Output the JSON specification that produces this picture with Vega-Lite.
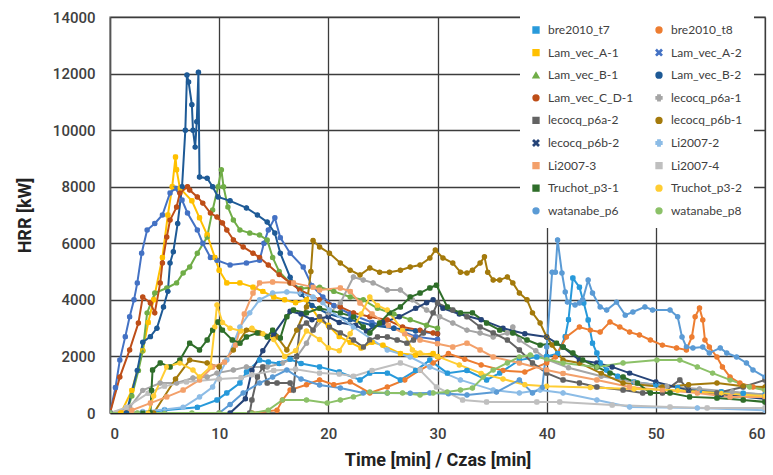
{
"$schema":"https://vega.github.io/schema/vega-lite/v6.json",
"autosize":"none",
"width":655,"height":396,
"padding":{"left":110,"top":17,"right":8,"bottom":62},
"background":"white",
"config":{"view":{"stroke":"#9a9a9a","strokeWidth":1.5},"font":"Roboto"},
"data":{"values":[
{"s":"bre2010_t7","t":0,"v":0},{"s":"bre2010_t7","t":3,"v":0},{"s":"bre2010_t7","t":5,"v":100},{"s":"bre2010_t7","t":8,"v":200},{"s":"bre2010_t7","t":9.8,"v":460},{"s":"bre2010_t7","t":10.7,"v":710},{"s":"bre2010_t7","t":11.9,"v":1060},{"s":"bre2010_t7","t":12.5,"v":1450},{"s":"bre2010_t7","t":13.7,"v":1870},{"s":"bre2010_t7","t":14.5,"v":1800},{"s":"bre2010_t7","t":15.5,"v":1750},{"s":"bre2010_t7","t":16.5,"v":1900},{"s":"bre2010_t7","t":17.5,"v":1750},{"s":"bre2010_t7","t":19.2,"v":1630},{"s":"bre2010_t7","t":21,"v":1450},{"s":"bre2010_t7","t":22.9,"v":1170},{"s":"bre2010_t7","t":23.8,"v":1410},{"s":"bre2010_t7","t":25.4,"v":1410},{"s":"bre2010_t7","t":26.6,"v":1170},{"s":"bre2010_t7","t":28,"v":1500},{"s":"bre2010_t7","t":29.3,"v":1870},{"s":"bre2010_t7","t":30.9,"v":1410},{"s":"bre2010_t7","t":32.7,"v":1500},{"s":"bre2010_t7","t":34.5,"v":1170},{"s":"bre2010_t7","t":35.7,"v":1410},{"s":"bre2010_t7","t":37.5,"v":1870},{"s":"bre2010_t7","t":39.1,"v":1980},{"s":"bre2010_t7","t":40,"v":2000},{"s":"bre2010_t7","t":41,"v":2100},{"s":"bre2010_t7","t":41.7,"v":2700},{"s":"bre2010_t7","t":42,"v":3300},{"s":"bre2010_t7","t":42.4,"v":4770},{"s":"bre2010_t7","t":43,"v":4450},{"s":"bre2010_t7","t":43.4,"v":3890},{"s":"bre2010_t7","t":43.8,"v":3290},{"s":"bre2010_t7","t":44.2,"v":2470},{"s":"bre2010_t7","t":44.6,"v":2120},{"s":"bre2010_t7","t":44.9,"v":1770},{"s":"bre2010_t7","t":45.5,"v":1520},{"s":"bre2010_t7","t":46.5,"v":1300},{"s":"bre2010_t7","t":48,"v":1100},{"s":"bre2010_t7","t":50,"v":1000},{"s":"bre2010_t7","t":52,"v":900},{"s":"bre2010_t7","t":54,"v":800},{"s":"bre2010_t7","t":56,"v":750},{"s":"bre2010_t7","t":58,"v":700},{"s":"bre2010_t7","t":60,"v":650},
{"s":"bre2010_t8","t":0,"v":0},{"s":"bre2010_t8","t":5,"v":0},{"s":"bre2010_t8","t":10,"v":0},{"s":"bre2010_t8","t":13,"v":0},{"s":"bre2010_t8","t":15.3,"v":100},{"s":"bre2010_t8","t":15.8,"v":460},{"s":"bre2010_t8","t":16.5,"v":810},{"s":"bre2010_t8","t":18,"v":1000},{"s":"bre2010_t8","t":19.2,"v":1170},{"s":"bre2010_t8","t":20.5,"v":1000},{"s":"bre2010_t8","t":22,"v":1100},{"s":"bre2010_t8","t":23.8,"v":710},{"s":"bre2010_t8","t":25.4,"v":920},{"s":"bre2010_t8","t":27,"v":1170},{"s":"bre2010_t8","t":28.4,"v":1520},{"s":"bre2010_t8","t":29.6,"v":1770},{"s":"bre2010_t8","t":31,"v":2100},{"s":"bre2010_t8","t":32.5,"v":1900},{"s":"bre2010_t8","t":34,"v":1700},{"s":"bre2010_t8","t":36,"v":1500},{"s":"bre2010_t8","t":38,"v":1450},{"s":"bre2010_t8","t":40,"v":1770},{"s":"bre2010_t8","t":40.8,"v":1980},{"s":"bre2010_t8","t":41.8,"v":2690},{"s":"bre2010_t8","t":43,"v":3040},{"s":"bre2010_t8","t":44,"v":2930},{"s":"bre2010_t8","t":44.9,"v":2860},{"s":"bre2010_t8","t":45.8,"v":3220},{"s":"bre2010_t8","t":46.7,"v":3040},{"s":"bre2010_t8","t":47.6,"v":2860},{"s":"bre2010_t8","t":48.5,"v":2760},{"s":"bre2010_t8","t":49.5,"v":2580},{"s":"bre2010_t8","t":50.6,"v":2400},{"s":"bre2010_t8","t":51.9,"v":2300},{"s":"bre2010_t8","t":52.8,"v":2230},{"s":"bre2010_t8","t":53.3,"v":2690},{"s":"bre2010_t8","t":53.6,"v":3400},{"s":"bre2010_t8","t":54,"v":3710},{"s":"bre2010_t8","t":54.3,"v":3290},{"s":"bre2010_t8","t":54.5,"v":2580},{"s":"bre2010_t8","t":54.9,"v":2330},{"s":"bre2010_t8","t":55.6,"v":1980},{"s":"bre2010_t8","t":56.1,"v":1630},{"s":"bre2010_t8","t":56.8,"v":1270},{"s":"bre2010_t8","t":57.7,"v":1060},{"s":"bre2010_t8","t":58.9,"v":920},{"s":"bre2010_t8","t":60,"v":810},
{"s":"Lam_vec_A-1","t":1,"v":0},{"s":"Lam_vec_A-1","t":2,"v":800},{"s":"Lam_vec_A-1","t":3,"v":2200},{"s":"Lam_vec_A-1","t":3.5,"v":3200},{"s":"Lam_vec_A-1","t":4,"v":4000},{"s":"Lam_vec_A-1","t":4.8,"v":5500},{"s":"Lam_vec_A-1","t":5.3,"v":7000},{"s":"Lam_vec_A-1","t":5.7,"v":8000},{"s":"Lam_vec_A-1","t":6,"v":9050},{"s":"Lam_vec_A-1","t":6.1,"v":8600},{"s":"Lam_vec_A-1","t":6.4,"v":7950},{"s":"Lam_vec_A-1","t":7.5,"v":7500},{"s":"Lam_vec_A-1","t":8.2,"v":6900},{"s":"Lam_vec_A-1","t":8.9,"v":6300},{"s":"Lam_vec_A-1","t":9.6,"v":5500},{"s":"Lam_vec_A-1","t":10,"v":5050},{"s":"Lam_vec_A-1","t":10.7,"v":4600},{"s":"Lam_vec_A-1","t":11.9,"v":4600},{"s":"Lam_vec_A-1","t":13.1,"v":4450},{"s":"Lam_vec_A-1","t":14,"v":4300},{"s":"Lam_vec_A-1","t":15,"v":4100},{"s":"Lam_vec_A-1","t":16,"v":4000},{"s":"Lam_vec_A-1","t":17,"v":3900},{"s":"Lam_vec_A-1","t":18,"v":4000},{"s":"Lam_vec_A-1","t":19.2,"v":3300},{"s":"Lam_vec_A-1","t":20,"v":3100},{"s":"Lam_vec_A-1","t":21,"v":2700},{"s":"Lam_vec_A-1","t":22,"v":2500},{"s":"Lam_vec_A-1","t":23,"v":2300},{"s":"Lam_vec_A-1","t":24,"v":2500},{"s":"Lam_vec_A-1","t":25,"v":2400},{"s":"Lam_vec_A-1","t":26.6,"v":2100},{"s":"Lam_vec_A-1","t":28,"v":2050},{"s":"Lam_vec_A-1","t":29.6,"v":2100},{"s":"Lam_vec_A-1","t":30,"v":2000},
{"s":"Lam_vec_A-2","t":0,"v":0},{"s":"Lam_vec_A-2","t":0.5,"v":900},{"s":"Lam_vec_A-2","t":0.9,"v":1870},{"s":"Lam_vec_A-2","t":1.4,"v":2700},{"s":"Lam_vec_A-2","t":1.8,"v":3400},{"s":"Lam_vec_A-2","t":2.2,"v":4000},{"s":"Lam_vec_A-2","t":2.5,"v":4600},{"s":"Lam_vec_A-2","t":2.9,"v":5650},{"s":"Lam_vec_A-2","t":3.4,"v":6470},{"s":"Lam_vec_A-2","t":4.1,"v":6700},{"s":"Lam_vec_A-2","t":4.8,"v":7000},{"s":"Lam_vec_A-2","t":5.5,"v":7780},{"s":"Lam_vec_A-2","t":6,"v":7950},{"s":"Lam_vec_A-2","t":6.6,"v":7530},{"s":"Lam_vec_A-2","t":7.1,"v":7070},{"s":"Lam_vec_A-2","t":8,"v":6470},{"s":"Lam_vec_A-2","t":8.5,"v":6000},{"s":"Lam_vec_A-2","t":9.2,"v":5500},{"s":"Lam_vec_A-2","t":9.8,"v":5400},{"s":"Lam_vec_A-2","t":11,"v":5230},{"s":"Lam_vec_A-2","t":12.5,"v":5300},{"s":"Lam_vec_A-2","t":13.7,"v":5400},{"s":"Lam_vec_A-2","t":14.1,"v":6000},{"s":"Lam_vec_A-2","t":14.5,"v":6470},{"s":"Lam_vec_A-2","t":15.1,"v":6900},{"s":"Lam_vec_A-2","t":15.6,"v":6200},{"s":"Lam_vec_A-2","t":16.5,"v":5650},{"s":"Lam_vec_A-2","t":17.7,"v":5160},{"s":"Lam_vec_A-2","t":18.5,"v":4500},{"s":"Lam_vec_A-2","t":19.5,"v":4100},{"s":"Lam_vec_A-2","t":20.5,"v":3800},{"s":"Lam_vec_A-2","t":22,"v":3500},{"s":"Lam_vec_A-2","t":24,"v":3200},{"s":"Lam_vec_A-2","t":26,"v":3000},{"s":"Lam_vec_A-2","t":28,"v":2700},{"s":"Lam_vec_A-2","t":30,"v":2600},
{"s":"Lam_vec_B-1","t":1.5,"v":0},{"s":"Lam_vec_B-1","t":2,"v":600},{"s":"Lam_vec_B-1","t":2.6,"v":1500},{"s":"Lam_vec_B-1","t":3,"v":2200},{"s":"Lam_vec_B-1","t":3.4,"v":3540},{"s":"Lam_vec_B-1","t":4.1,"v":4240},{"s":"Lam_vec_B-1","t":5.2,"v":4420},{"s":"Lam_vec_B-1","t":6.1,"v":4600},{"s":"Lam_vec_B-1","t":6.7,"v":4950},{"s":"Lam_vec_B-1","t":7.3,"v":5160},{"s":"Lam_vec_B-1","t":8,"v":5650},{"s":"Lam_vec_B-1","t":8.9,"v":6220},{"s":"Lam_vec_B-1","t":9.4,"v":7180},{"s":"Lam_vec_B-1","t":9.9,"v":8000},{"s":"Lam_vec_B-1","t":10.2,"v":8600},{"s":"Lam_vec_B-1","t":10.4,"v":8000},{"s":"Lam_vec_B-1","t":10.8,"v":7280},{"s":"Lam_vec_B-1","t":11.3,"v":6820},{"s":"Lam_vec_B-1","t":11.9,"v":6470},{"s":"Lam_vec_B-1","t":12.8,"v":6360},{"s":"Lam_vec_B-1","t":13.7,"v":6290},{"s":"Lam_vec_B-1","t":14.4,"v":6120},{"s":"Lam_vec_B-1","t":14.9,"v":5500},{"s":"Lam_vec_B-1","t":15.5,"v":5000},{"s":"Lam_vec_B-1","t":16.5,"v":4600},{"s":"Lam_vec_B-1","t":17.5,"v":4400},{"s":"Lam_vec_B-1","t":19.2,"v":4450},{"s":"Lam_vec_B-1","t":20.5,"v":4300},{"s":"Lam_vec_B-1","t":22,"v":4100},{"s":"Lam_vec_B-1","t":23.2,"v":4000},{"s":"Lam_vec_B-1","t":24.5,"v":3700},{"s":"Lam_vec_B-1","t":26,"v":3500},{"s":"Lam_vec_B-1","t":27.5,"v":3300},{"s":"Lam_vec_B-1","t":29,"v":3100},{"s":"Lam_vec_B-1","t":30,"v":3000},
{"s":"Lam_vec_B-2","t":1.5,"v":0},{"s":"Lam_vec_B-2","t":2.5,"v":1500},{"s":"Lam_vec_B-2","t":3,"v":2500},{"s":"Lam_vec_B-2","t":3.7,"v":2700},{"s":"Lam_vec_B-2","t":4.3,"v":3000},{"s":"Lam_vec_B-2","t":4.9,"v":3750},{"s":"Lam_vec_B-2","t":5.3,"v":4300},{"s":"Lam_vec_B-2","t":5.5,"v":5300},{"s":"Lam_vec_B-2","t":5.8,"v":5700},{"s":"Lam_vec_B-2","t":6.2,"v":6700},{"s":"Lam_vec_B-2","t":6.6,"v":8000},{"s":"Lam_vec_B-2","t":6.9,"v":10000},{"s":"Lam_vec_B-2","t":7.05,"v":11950},{"s":"Lam_vec_B-2","t":7.2,"v":11700},{"s":"Lam_vec_B-2","t":7.5,"v":10900},{"s":"Lam_vec_B-2","t":7.6,"v":10000},{"s":"Lam_vec_B-2","t":7.8,"v":9400},{"s":"Lam_vec_B-2","t":7.95,"v":10300},{"s":"Lam_vec_B-2","t":8.1,"v":12050},{"s":"Lam_vec_B-2","t":8.2,"v":8340},{"s":"Lam_vec_B-2","t":8.9,"v":8300},{"s":"Lam_vec_B-2","t":9.4,"v":8000},{"s":"Lam_vec_B-2","t":9.9,"v":7640},{"s":"Lam_vec_B-2","t":11,"v":7500},{"s":"Lam_vec_B-2","t":12.5,"v":7250},{"s":"Lam_vec_B-2","t":13.5,"v":7000},{"s":"Lam_vec_B-2","t":14.4,"v":6750},{"s":"Lam_vec_B-2","t":15.1,"v":6360},{"s":"Lam_vec_B-2","t":15.6,"v":5650},{"s":"Lam_vec_B-2","t":16.5,"v":4800},{"s":"Lam_vec_B-2","t":17.5,"v":4200},{"s":"Lam_vec_B-2","t":18.5,"v":3800},{"s":"Lam_vec_B-2","t":20,"v":3500},{"s":"Lam_vec_B-2","t":22,"v":3300},{"s":"Lam_vec_B-2","t":24,"v":3100},{"s":"Lam_vec_B-2","t":26,"v":3000},{"s":"Lam_vec_B-2","t":28,"v":2900},{"s":"Lam_vec_B-2","t":30,"v":2800},
{"s":"Lam_vec_C_D-1","t":0,"v":0},{"s":"Lam_vec_C_D-1","t":0.9,"v":1270},{"s":"Lam_vec_C_D-1","t":1.8,"v":2230},{"s":"Lam_vec_C_D-1","t":2.6,"v":3180},{"s":"Lam_vec_C_D-1","t":3,"v":4100},{"s":"Lam_vec_C_D-1","t":3.7,"v":3890},{"s":"Lam_vec_C_D-1","t":4.1,"v":3540},{"s":"Lam_vec_C_D-1","t":4.6,"v":4600},{"s":"Lam_vec_C_D-1","t":4.8,"v":5300},{"s":"Lam_vec_C_D-1","t":5.2,"v":6220},{"s":"Lam_vec_C_D-1","t":5.5,"v":6820},{"s":"Lam_vec_C_D-1","t":6.1,"v":7280},{"s":"Lam_vec_C_D-1","t":6.4,"v":7780},{"s":"Lam_vec_C_D-1","t":7.1,"v":8000},{"s":"Lam_vec_C_D-1","t":7.3,"v":7880},{"s":"Lam_vec_C_D-1","t":8,"v":7640},{"s":"Lam_vec_C_D-1","t":8.5,"v":7420},{"s":"Lam_vec_C_D-1","t":9.2,"v":7070},{"s":"Lam_vec_C_D-1","t":9.8,"v":6930},{"s":"Lam_vec_C_D-1","t":10.3,"v":6720},{"s":"Lam_vec_C_D-1","t":10.7,"v":6470},{"s":"Lam_vec_C_D-1","t":11.3,"v":6120},{"s":"Lam_vec_C_D-1","t":12.2,"v":5870},{"s":"Lam_vec_C_D-1","t":13.1,"v":5650},{"s":"Lam_vec_C_D-1","t":13.7,"v":5500},{"s":"Lam_vec_C_D-1","t":14.5,"v":5230},{"s":"Lam_vec_C_D-1","t":15.5,"v":4900},{"s":"Lam_vec_C_D-1","t":16.5,"v":4600},{"s":"Lam_vec_C_D-1","t":17.4,"v":4350},{"s":"Lam_vec_C_D-1","t":19.2,"v":4000},{"s":"Lam_vec_C_D-1","t":21.1,"v":3750},{"s":"Lam_vec_C_D-1","t":22.3,"v":3540},{"s":"Lam_vec_C_D-1","t":23.8,"v":3400},{"s":"Lam_vec_C_D-1","t":25.4,"v":3290},{"s":"Lam_vec_C_D-1","t":26.8,"v":3040},{"s":"Lam_vec_C_D-1","t":28.4,"v":2930},{"s":"Lam_vec_C_D-1","t":29.6,"v":2830},{"s":"Lam_vec_C_D-1","t":30,"v":2800},
{"s":"lecocq_p6a-1","t":0,"v":0},{"s":"lecocq_p6a-1","t":1.8,"v":200},{"s":"lecocq_p6a-1","t":3,"v":800},{"s":"lecocq_p6a-1","t":4.6,"v":1060},{"s":"lecocq_p6a-1","t":6.1,"v":1060},{"s":"lecocq_p6a-1","t":7.6,"v":1240},{"s":"lecocq_p6a-1","t":8.9,"v":1270},{"s":"lecocq_p6a-1","t":9.8,"v":1410},{"s":"lecocq_p6a-1","t":11.3,"v":1520},{"s":"lecocq_p6a-1","t":12.5,"v":1630},{"s":"lecocq_p6a-1","t":14.4,"v":1630},{"s":"lecocq_p6a-1","t":15.8,"v":1770},{"s":"lecocq_p6a-1","t":17.1,"v":1980},{"s":"lecocq_p6a-1","t":18,"v":2470},{"s":"lecocq_p6a-1","t":18.6,"v":2930},{"s":"lecocq_p6a-1","t":20,"v":3500},{"s":"lecocq_p6a-1","t":21.1,"v":3890},{"s":"lecocq_p6a-1","t":22.3,"v":4810},{"s":"lecocq_p6a-1","t":23.2,"v":4700},{"s":"lecocq_p6a-1","t":24.1,"v":4600},{"s":"lecocq_p6a-1","t":25.4,"v":4350},{"s":"lecocq_p6a-1","t":26.6,"v":4350},{"s":"lecocq_p6a-1","t":27.7,"v":4000},{"s":"lecocq_p6a-1","t":29,"v":3640},{"s":"lecocq_p6a-1","t":30.2,"v":3400},{"s":"lecocq_p6a-1","t":31.4,"v":3180},{"s":"lecocq_p6a-1","t":32.7,"v":2930},{"s":"lecocq_p6a-1","t":33.9,"v":2830},{"s":"lecocq_p6a-1","t":35.1,"v":2690},{"s":"lecocq_p6a-1","t":36.4,"v":2830},{"s":"lecocq_p6a-1","t":36.9,"v":3040},{"s":"lecocq_p6a-1","t":37.5,"v":2580},{"s":"lecocq_p6a-1","t":39,"v":2200},{"s":"lecocq_p6a-1","t":40,"v":1900},{"s":"lecocq_p6a-1","t":42,"v":1600},{"s":"lecocq_p6a-1","t":45,"v":1300},{"s":"lecocq_p6a-1","t":48,"v":1100},{"s":"lecocq_p6a-1","t":51,"v":950},{"s":"lecocq_p6a-1","t":54,"v":850},{"s":"lecocq_p6a-1","t":57,"v":750},{"s":"lecocq_p6a-1","t":60,"v":650},
{"s":"lecocq_p6a-2","t":12.8,"v":0},{"s":"lecocq_p6a-2","t":13,"v":460},{"s":"lecocq_p6a-2","t":13.5,"v":1270},{"s":"lecocq_p6a-2","t":14,"v":1630},{"s":"lecocq_p6a-2","t":14.4,"v":1060},{"s":"lecocq_p6a-2","t":15.3,"v":1060},{"s":"lecocq_p6a-2","t":16.5,"v":1060},{"s":"lecocq_p6a-2","t":16.8,"v":810},{"s":"lecocq_p6a-2","t":17.1,"v":2000},{"s":"lecocq_p6a-2","t":17.4,"v":3040},{"s":"lecocq_p6a-2","t":18,"v":3180},{"s":"lecocq_p6a-2","t":18.6,"v":2930},{"s":"lecocq_p6a-2","t":19.2,"v":3400},{"s":"lecocq_p6a-2","t":20.1,"v":3040},{"s":"lecocq_p6a-2","t":21.1,"v":2830},{"s":"lecocq_p6a-2","t":22.3,"v":2580},{"s":"lecocq_p6a-2","t":23.2,"v":2330},{"s":"lecocq_p6a-2","t":23.8,"v":2580},{"s":"lecocq_p6a-2","t":24.5,"v":2690},{"s":"lecocq_p6a-2","t":25.4,"v":2690},{"s":"lecocq_p6a-2","t":26.3,"v":2580},{"s":"lecocq_p6a-2","t":27.2,"v":2470},{"s":"lecocq_p6a-2","t":27.8,"v":2580},{"s":"lecocq_p6a-2","t":28.7,"v":2830},{"s":"lecocq_p6a-2","t":29.6,"v":3540},{"s":"lecocq_p6a-2","t":30,"v":3890},{"s":"lecocq_p6a-2","t":31.4,"v":3640},{"s":"lecocq_p6a-2","t":32.7,"v":3400},{"s":"lecocq_p6a-2","t":33.9,"v":3040},{"s":"lecocq_p6a-2","t":35.1,"v":2830},{"s":"lecocq_p6a-2","t":36.4,"v":2580},{"s":"lecocq_p6a-2","t":37.5,"v":2230},{"s":"lecocq_p6a-2","t":38.7,"v":1770},{"s":"lecocq_p6a-2","t":40,"v":1410},{"s":"lecocq_p6a-2","t":41.5,"v":1170},{"s":"lecocq_p6a-2","t":43,"v":1060},{"s":"lecocq_p6a-2","t":44.6,"v":920},{"s":"lecocq_p6a-2","t":47,"v":810},{"s":"lecocq_p6a-2","t":48.8,"v":710},{"s":"lecocq_p6a-2","t":50.6,"v":710},{"s":"lecocq_p6a-2","t":52.2,"v":1170},{"s":"lecocq_p6a-2","t":53,"v":810},{"s":"lecocq_p6a-2","t":55.6,"v":710},{"s":"lecocq_p6a-2","t":58,"v":920},{"s":"lecocq_p6a-2","t":60,"v":1170},
{"s":"lecocq_p6b-1","t":4,"v":0},{"s":"lecocq_p6b-1","t":6,"v":1200},{"s":"lecocq_p6b-1","t":7.3,"v":1870},{"s":"lecocq_p6b-1","t":8.9,"v":1770},{"s":"lecocq_p6b-1","t":10,"v":1630},{"s":"lecocq_p6b-1","t":11.3,"v":2230},{"s":"lecocq_p6b-1","t":12.5,"v":2930},{"s":"lecocq_p6b-1","t":13.7,"v":2830},{"s":"lecocq_p6b-1","t":15.3,"v":2690},{"s":"lecocq_p6b-1","t":16.2,"v":2230},{"s":"lecocq_p6b-1","t":17.1,"v":2930},{"s":"lecocq_p6b-1","t":18,"v":3750},{"s":"lecocq_p6b-1","t":18.4,"v":5000},{"s":"lecocq_p6b-1","t":18.6,"v":6100},{"s":"lecocq_p6b-1","t":19.2,"v":5870},{"s":"lecocq_p6b-1","t":20.1,"v":5650},{"s":"lecocq_p6b-1","t":21.1,"v":5300},{"s":"lecocq_p6b-1","t":22,"v":5050},{"s":"lecocq_p6b-1","t":22.9,"v":4880},{"s":"lecocq_p6b-1","t":23.8,"v":5130},{"s":"lecocq_p6b-1","t":24.7,"v":4980},{"s":"lecocq_p6b-1","t":25.6,"v":4980},{"s":"lecocq_p6b-1","t":26.6,"v":5050},{"s":"lecocq_p6b-1","t":27.5,"v":5160},{"s":"lecocq_p6b-1","t":28.4,"v":5230},{"s":"lecocq_p6b-1","t":29.3,"v":5480},{"s":"lecocq_p6b-1","t":29.8,"v":5760},{"s":"lecocq_p6b-1","t":30.5,"v":5480},{"s":"lecocq_p6b-1","t":31.4,"v":5300},{"s":"lecocq_p6b-1","t":32.1,"v":4980},{"s":"lecocq_p6b-1","t":32.7,"v":4950},{"s":"lecocq_p6b-1","t":33.2,"v":5050},{"s":"lecocq_p6b-1","t":33.9,"v":5300},{"s":"lecocq_p6b-1","t":34.3,"v":5520},{"s":"lecocq_p6b-1","t":34.6,"v":4980},{"s":"lecocq_p6b-1","t":35.1,"v":4700},{"s":"lecocq_p6b-1","t":35.7,"v":4700},{"s":"lecocq_p6b-1","t":36.4,"v":4810},{"s":"lecocq_p6b-1","t":36.9,"v":4600},{"s":"lecocq_p6b-1","t":37.5,"v":4240},{"s":"lecocq_p6b-1","t":38.2,"v":4000},{"s":"lecocq_p6b-1","t":38.7,"v":3540},{"s":"lecocq_p6b-1","t":39.4,"v":3180},{"s":"lecocq_p6b-1","t":40,"v":2690},{"s":"lecocq_p6b-1","t":40.5,"v":2400},{"s":"lecocq_p6b-1","t":41.5,"v":1870},{"s":"lecocq_p6b-1","t":43,"v":1770},{"s":"lecocq_p6b-1","t":45,"v":1400},{"s":"lecocq_p6b-1","t":47,"v":1060},{"s":"lecocq_p6b-1","t":50.6,"v":920},{"s":"lecocq_p6b-1","t":53,"v":1000},{"s":"lecocq_p6b-1","t":55.6,"v":1060},{"s":"lecocq_p6b-1","t":58,"v":950},{"s":"lecocq_p6b-1","t":60,"v":920},
{"s":"lecocq_p6b-2","t":11,"v":0},{"s":"lecocq_p6b-2","t":12.4,"v":500},{"s":"lecocq_p6b-2","t":13,"v":1500},{"s":"lecocq_p6b-2","t":14,"v":2200},{"s":"lecocq_p6b-2","t":15,"v":2800},{"s":"lecocq_p6b-2","t":16.5,"v":3600},{"s":"lecocq_p6b-2","t":17.5,"v":3500},{"s":"lecocq_p6b-2","t":18.5,"v":3300},{"s":"lecocq_p6b-2","t":20,"v":3400},{"s":"lecocq_p6b-2","t":21,"v":3200},{"s":"lecocq_p6b-2","t":22.5,"v":3100},{"s":"lecocq_p6b-2","t":23.5,"v":2900},{"s":"lecocq_p6b-2","t":25,"v":3200},{"s":"lecocq_p6b-2","t":26.5,"v":3400},{"s":"lecocq_p6b-2","t":28,"v":3700},{"s":"lecocq_p6b-2","t":29,"v":3900},{"s":"lecocq_p6b-2","t":29.6,"v":4000},{"s":"lecocq_p6b-2","t":30.5,"v":3700},{"s":"lecocq_p6b-2","t":32,"v":3500},{"s":"lecocq_p6b-2","t":34,"v":3300},{"s":"lecocq_p6b-2","t":36,"v":3000},{"s":"lecocq_p6b-2","t":38,"v":2800},{"s":"lecocq_p6b-2","t":40,"v":2690},{"s":"lecocq_p6b-2","t":41.5,"v":2330},{"s":"lecocq_p6b-2","t":43,"v":1870},{"s":"lecocq_p6b-2","t":44.6,"v":1770},{"s":"lecocq_p6b-2","t":46,"v":1630},{"s":"lecocq_p6b-2","t":47.6,"v":1410},{"s":"lecocq_p6b-2","t":50,"v":1100},{"s":"lecocq_p6b-2","t":53,"v":800},{"s":"lecocq_p6b-2","t":56,"v":650},{"s":"lecocq_p6b-2","t":60,"v":500},
{"s":"Li2007-2","t":0,"v":0},{"s":"Li2007-2","t":3,"v":50},{"s":"Li2007-2","t":5,"v":120},{"s":"Li2007-2","t":6.7,"v":200},{"s":"Li2007-2","t":8.2,"v":570},{"s":"Li2007-2","t":9.4,"v":920},{"s":"Li2007-2","t":10.7,"v":1870},{"s":"Li2007-2","t":11.9,"v":3040},{"s":"Li2007-2","t":12.8,"v":3540},{"s":"Li2007-2","t":13.7,"v":4000},{"s":"Li2007-2","t":14.9,"v":4240},{"s":"Li2007-2","t":16.2,"v":4280},{"s":"Li2007-2","t":17.4,"v":4240},{"s":"Li2007-2","t":18.6,"v":4100},{"s":"Li2007-2","t":19.5,"v":3900},{"s":"Li2007-2","t":20.1,"v":3640},{"s":"Li2007-2","t":22.3,"v":3040},{"s":"Li2007-2","t":25.4,"v":2230},{"s":"Li2007-2","t":27.5,"v":1980},{"s":"Li2007-2","t":29.3,"v":1630},{"s":"Li2007-2","t":32.1,"v":1170},{"s":"Li2007-2","t":35.1,"v":810},{"s":"Li2007-2","t":37.5,"v":710},{"s":"Li2007-2","t":39.4,"v":810},{"s":"Li2007-2","t":41.5,"v":710},{"s":"Li2007-2","t":44.6,"v":460},{"s":"Li2007-2","t":47.6,"v":210},{"s":"Li2007-2","t":53.8,"v":180},{"s":"Li2007-2","t":60,"v":100},
{"s":"Li2007-3","t":0,"v":0},{"s":"Li2007-3","t":2,"v":100},{"s":"Li2007-3","t":3.7,"v":350},{"s":"Li2007-3","t":5.2,"v":570},{"s":"Li2007-3","t":6.7,"v":810},{"s":"Li2007-3","t":8.2,"v":1170},{"s":"Li2007-3","t":9.4,"v":1630},{"s":"Li2007-3","t":10.5,"v":1800},{"s":"Li2007-3","t":11.5,"v":2400},{"s":"Li2007-3","t":12.3,"v":3500},{"s":"Li2007-3","t":13.1,"v":4240},{"s":"Li2007-3","t":13.7,"v":4600},{"s":"Li2007-3","t":14.9,"v":4630},{"s":"Li2007-3","t":16.8,"v":4600},{"s":"Li2007-3","t":18.6,"v":4450},{"s":"Li2007-3","t":19.2,"v":4350},{"s":"Li2007-3","t":21.1,"v":4420},{"s":"Li2007-3","t":22,"v":4300},{"s":"Li2007-3","t":22.9,"v":3890},{"s":"Li2007-3","t":24,"v":3500},{"s":"Li2007-3","t":25.5,"v":3100},{"s":"Li2007-3","t":27,"v":2800},{"s":"Li2007-3","t":28.4,"v":2580},{"s":"Li2007-3","t":30,"v":2450},{"s":"Li2007-3","t":31.4,"v":2330},{"s":"Li2007-3","t":32.7,"v":2470},{"s":"Li2007-3","t":33.9,"v":2230},{"s":"Li2007-3","t":35.1,"v":1980},{"s":"Li2007-3","t":37.5,"v":1770},{"s":"Li2007-3","t":40,"v":1520},{"s":"Li2007-3","t":41.5,"v":1400},{"s":"Li2007-3","t":44.6,"v":1170},{"s":"Li2007-3","t":47.6,"v":920},{"s":"Li2007-3","t":50.6,"v":810},{"s":"Li2007-3","t":53.8,"v":710},{"s":"Li2007-3","t":56.8,"v":570},{"s":"Li2007-3","t":60,"v":570},
{"s":"Li2007-4","t":0,"v":0},{"s":"Li2007-4","t":1.5,"v":200},{"s":"Li2007-4","t":3.5,"v":700},{"s":"Li2007-4","t":5,"v":950},{"s":"Li2007-4","t":7,"v":1100},{"s":"Li2007-4","t":10,"v":1200},{"s":"Li2007-4","t":12,"v":1250},{"s":"Li2007-4","t":13,"v":1350},{"s":"Li2007-4","t":15,"v":1500},{"s":"Li2007-4","t":17,"v":1550},{"s":"Li2007-4","t":19.2,"v":1410},{"s":"Li2007-4","t":21,"v":1380},{"s":"Li2007-4","t":22.3,"v":1300},{"s":"Li2007-4","t":24,"v":1500},{"s":"Li2007-4","t":26.6,"v":1770},{"s":"Li2007-4","t":28.4,"v":1520},{"s":"Li2007-4","t":29.9,"v":920},{"s":"Li2007-4","t":32.3,"v":460},{"s":"Li2007-4","t":34.5,"v":390},{"s":"Li2007-4","t":39.1,"v":390},{"s":"Li2007-4","t":41.2,"v":390},{"s":"Li2007-4","t":46,"v":280},{"s":"Li2007-4","t":51.3,"v":210},{"s":"Li2007-4","t":54.7,"v":180},{"s":"Li2007-4","t":60,"v":180},
{"s":"Truchot_p3-1","t":0,"v":0},{"s":"Truchot_p3-1","t":3,"v":0},{"s":"Truchot_p3-1","t":3.7,"v":0},{"s":"Truchot_p3-1","t":3.8,"v":800},{"s":"Truchot_p3-1","t":3.9,"v":1520},{"s":"Truchot_p3-1","t":4.6,"v":1770},{"s":"Truchot_p3-1","t":5.5,"v":1630},{"s":"Truchot_p3-1","t":6.4,"v":1870},{"s":"Truchot_p3-1","t":7.3,"v":2470},{"s":"Truchot_p3-1","t":8.2,"v":2230},{"s":"Truchot_p3-1","t":8.9,"v":2580},{"s":"Truchot_p3-1","t":9.4,"v":2930},{"s":"Truchot_p3-1","t":9.9,"v":3220},{"s":"Truchot_p3-1","t":10.3,"v":2930},{"s":"Truchot_p3-1","t":11.2,"v":2580},{"s":"Truchot_p3-1","t":11.9,"v":2470},{"s":"Truchot_p3-1","t":12.5,"v":2690},{"s":"Truchot_p3-1","t":13.5,"v":2830},{"s":"Truchot_p3-1","t":14.4,"v":2690},{"s":"Truchot_p3-1","t":14.9,"v":2930},{"s":"Truchot_p3-1","t":15.6,"v":2650},{"s":"Truchot_p3-1","t":16.2,"v":3400},{"s":"Truchot_p3-1","t":16.8,"v":3640},{"s":"Truchot_p3-1","t":18,"v":3540},{"s":"Truchot_p3-1","t":19.2,"v":3700},{"s":"Truchot_p3-1","t":21.1,"v":3540},{"s":"Truchot_p3-1","t":22.3,"v":3400},{"s":"Truchot_p3-1","t":23.2,"v":3040},{"s":"Truchot_p3-1","t":23.8,"v":2830},{"s":"Truchot_p3-1","t":24.7,"v":3180},{"s":"Truchot_p3-1","t":25.6,"v":3540},{"s":"Truchot_p3-1","t":26.6,"v":3750},{"s":"Truchot_p3-1","t":27.5,"v":4100},{"s":"Truchot_p3-1","t":28.4,"v":4240},{"s":"Truchot_p3-1","t":29.3,"v":4420},{"s":"Truchot_p3-1","t":29.9,"v":4520},{"s":"Truchot_p3-1","t":30.9,"v":3750},{"s":"Truchot_p3-1","t":32.1,"v":3540},{"s":"Truchot_p3-1","t":33.2,"v":3540},{"s":"Truchot_p3-1","t":34.5,"v":3180},{"s":"Truchot_p3-1","t":35.7,"v":2930},{"s":"Truchot_p3-1","t":36.9,"v":2830},{"s":"Truchot_p3-1","t":38.2,"v":2580},{"s":"Truchot_p3-1","t":39.4,"v":2400},{"s":"Truchot_p3-1","t":40.9,"v":2470},{"s":"Truchot_p3-1","t":41.5,"v":2330},{"s":"Truchot_p3-1","t":42.4,"v":2120},{"s":"Truchot_p3-1","t":43.3,"v":1870},{"s":"Truchot_p3-1","t":44.6,"v":1630},{"s":"Truchot_p3-1","t":45.8,"v":1410},{"s":"Truchot_p3-1","t":47,"v":1270},{"s":"Truchot_p3-1","t":48.3,"v":1060},{"s":"Truchot_p3-1","t":49.5,"v":710},{"s":"Truchot_p3-1","t":51.3,"v":710},{"s":"Truchot_p3-1","t":53.1,"v":570},{"s":"Truchot_p3-1","t":55.6,"v":530},{"s":"Truchot_p3-1","t":58,"v":460},{"s":"Truchot_p3-1","t":60,"v":390},
{"s":"Truchot_p3-2","t":3.5,"v":0},{"s":"Truchot_p3-2","t":4,"v":600},{"s":"Truchot_p3-2","t":5.2,"v":1630},{"s":"Truchot_p3-2","t":6.4,"v":1770},{"s":"Truchot_p3-2","t":7.6,"v":1520},{"s":"Truchot_p3-2","t":8.2,"v":1270},{"s":"Truchot_p3-2","t":9.2,"v":1630},{"s":"Truchot_p3-2","t":9.6,"v":3040},{"s":"Truchot_p3-2","t":9.8,"v":3820},{"s":"Truchot_p3-2","t":10.3,"v":3200},{"s":"Truchot_p3-2","t":11,"v":3000},{"s":"Truchot_p3-2","t":12,"v":2900},{"s":"Truchot_p3-2","t":13,"v":3000},{"s":"Truchot_p3-2","t":14,"v":2800},{"s":"Truchot_p3-2","t":15,"v":2600},{"s":"Truchot_p3-2","t":16,"v":2000},{"s":"Truchot_p3-2","t":17,"v":2200},{"s":"Truchot_p3-2","t":18,"v":2900},{"s":"Truchot_p3-2","t":19.2,"v":2600},{"s":"Truchot_p3-2","t":20,"v":2300},{"s":"Truchot_p3-2","t":21,"v":2200},{"s":"Truchot_p3-2","t":22,"v":2800},{"s":"Truchot_p3-2","t":23,"v":3500},{"s":"Truchot_p3-2","t":23.8,"v":4100},{"s":"Truchot_p3-2","t":24.5,"v":3800},{"s":"Truchot_p3-2","t":25.4,"v":3640},{"s":"Truchot_p3-2","t":26.8,"v":2930},{"s":"Truchot_p3-2","t":27.7,"v":2230},{"s":"Truchot_p3-2","t":28.4,"v":2120},{"s":"Truchot_p3-2","t":30,"v":2000},{"s":"Truchot_p3-2","t":32,"v":1700},{"s":"Truchot_p3-2","t":34,"v":1400},{"s":"Truchot_p3-2","t":36,"v":1200},{"s":"Truchot_p3-2","t":38,"v":1000},{"s":"Truchot_p3-2","t":40,"v":950},{"s":"Truchot_p3-2","t":44,"v":900},{"s":"Truchot_p3-2","t":48,"v":850},{"s":"Truchot_p3-2","t":52,"v":800},{"s":"Truchot_p3-2","t":56,"v":700},{"s":"Truchot_p3-2","t":60,"v":600},
{"s":"watanabe_p6","t":0,"v":0},{"s":"watanabe_p6","t":5,"v":0},{"s":"watanabe_p6","t":10,"v":0},{"s":"watanabe_p6","t":11,"v":300},{"s":"watanabe_p6","t":12.2,"v":710},{"s":"watanabe_p6","t":13.7,"v":1060},{"s":"watanabe_p6","t":14.9,"v":1270},{"s":"watanabe_p6","t":16.2,"v":1520},{"s":"watanabe_p6","t":17.5,"v":1200},{"s":"watanabe_p6","t":19.2,"v":990},{"s":"watanabe_p6","t":21.1,"v":880},{"s":"watanabe_p6","t":23.2,"v":710},{"s":"watanabe_p6","t":25.4,"v":710},{"s":"watanabe_p6","t":27.5,"v":700},{"s":"watanabe_p6","t":29.3,"v":710},{"s":"watanabe_p6","t":31,"v":680},{"s":"watanabe_p6","t":32.7,"v":640},{"s":"watanabe_p6","t":35.4,"v":740},{"s":"watanabe_p6","t":37.5,"v":1170},{"s":"watanabe_p6","t":38.7,"v":710},{"s":"watanabe_p6","t":39.6,"v":900},{"s":"watanabe_p6","t":40,"v":2330},{"s":"watanabe_p6","t":40.5,"v":4980},{"s":"watanabe_p6","t":40.8,"v":4980},{"s":"watanabe_p6","t":41,"v":6120},{"s":"watanabe_p6","t":41.4,"v":4950},{"s":"watanabe_p6","t":41.7,"v":4280},{"s":"watanabe_p6","t":41.9,"v":3920},{"s":"watanabe_p6","t":42.6,"v":3820},{"s":"watanabe_p6","t":43,"v":3890},{"s":"watanabe_p6","t":43.3,"v":4000},{"s":"watanabe_p6","t":43.8,"v":4700},{"s":"watanabe_p6","t":44.2,"v":4240},{"s":"watanabe_p6","t":44.9,"v":3750},{"s":"watanabe_p6","t":45.5,"v":3640},{"s":"watanabe_p6","t":46.4,"v":3920},{"s":"watanabe_p6","t":47.2,"v":3460},{"s":"watanabe_p6","t":47.9,"v":3570},{"s":"watanabe_p6","t":49,"v":3750},{"s":"watanabe_p6","t":49.7,"v":3640},{"s":"watanabe_p6","t":51.3,"v":3640},{"s":"watanabe_p6","t":52,"v":3400},{"s":"watanabe_p6","t":52.4,"v":2690},{"s":"watanabe_p6","t":52.8,"v":2330},{"s":"watanabe_p6","t":53.4,"v":2300},{"s":"watanabe_p6","t":54.3,"v":2330},{"s":"watanabe_p6","t":54.9,"v":2120},{"s":"watanabe_p6","t":55.9,"v":2300},{"s":"watanabe_p6","t":56.5,"v":2120},{"s":"watanabe_p6","t":57.4,"v":1980},{"s":"watanabe_p6","t":58.3,"v":1770},{"s":"watanabe_p6","t":58.9,"v":1520},{"s":"watanabe_p6","t":60,"v":1270},
{"s":"watanabe_p8","t":0,"v":0},{"s":"watanabe_p8","t":2.5,"v":0},{"s":"watanabe_p8","t":5,"v":0},{"s":"watanabe_p8","t":7.5,"v":0},{"s":"watanabe_p8","t":10,"v":0},{"s":"watanabe_p8","t":13,"v":0},{"s":"watanabe_p8","t":14.5,"v":100},{"s":"watanabe_p8","t":15.8,"v":460},{"s":"watanabe_p8","t":18,"v":460},{"s":"watanabe_p8","t":19.9,"v":350},{"s":"watanabe_p8","t":21.1,"v":460},{"s":"watanabe_p8","t":22.3,"v":570},{"s":"watanabe_p8","t":23.8,"v":740},{"s":"watanabe_p8","t":25.4,"v":710},{"s":"watanabe_p8","t":26.8,"v":710},{"s":"watanabe_p8","t":28.4,"v":640},{"s":"watanabe_p8","t":29.6,"v":710},{"s":"watanabe_p8","t":30.9,"v":740},{"s":"watanabe_p8","t":32.1,"v":810},{"s":"watanabe_p8","t":33.2,"v":880},{"s":"watanabe_p8","t":34.2,"v":1270},{"s":"watanabe_p8","t":35.1,"v":1520},{"s":"watanabe_p8","t":36.4,"v":1770},{"s":"watanabe_p8","t":37.5,"v":1980},{"s":"watanabe_p8","t":38.5,"v":2050},{"s":"watanabe_p8","t":40,"v":1900},{"s":"watanabe_p8","t":41.5,"v":1770},{"s":"watanabe_p8","t":44.6,"v":1630},{"s":"watanabe_p8","t":47,"v":1770},{"s":"watanabe_p8","t":50.1,"v":1870},{"s":"watanabe_p8","t":52.2,"v":1870},{"s":"watanabe_p8","t":53.8,"v":1630},{"s":"watanabe_p8","t":55.2,"v":1410},{"s":"watanabe_p8","t":56.8,"v":1170},{"s":"watanabe_p8","t":58.6,"v":920},{"s":"watanabe_p8","t":60,"v":810}
]},
"encoding":{
"x":{"field":"t","type":"quantitative","scale":{"domain":[0,60],"nice":false},
"axis":{"values":[0,10,20,30,40,50,60],"format":"d","title":"Time [min] / Czas [min]","grid":true,"gridColor":"#3c3c3c","gridWidth":1.3,"domainColor":"#222","domainWidth":1.6,"ticks":false,"labelPadding":13,"labelFont":"Roboto","labelFontSize":15,"labelFontWeight":500,"labelColor":"#404040","titleFont":"Roboto","titleFontSize":18,"titleFontWeight":"bold","titleColor":"#222","titlePadding":10}},
"y":{"field":"v","type":"quantitative","scale":{"domain":[0,14000],"nice":false},
"axis":{"values":[0,2000,4000,6000,8000,10000,12000,14000],"format":"d","title":"HRR [kW]","grid":true,"gridColor":"#3c3c3c","gridWidth":1.3,"domainColor":"#555","domainWidth":1.5,"ticks":false,"labelPadding":15,"labelFont":"Roboto","labelFontSize":15,"labelFontWeight":500,"labelColor":"#404040","titleFont":"Roboto","titleFontSize":18,"titleFontWeight":"bold","titleColor":"#222","titlePadding":18}},
"color":{"field":"s","type":"nominal","sort":null,
"scale":{"domain":["bre2010_t7","bre2010_t8","Lam_vec_A-1","Lam_vec_A-2","Lam_vec_B-1","Lam_vec_B-2","Lam_vec_C_D-1","lecocq_p6a-1","lecocq_p6a-2","lecocq_p6b-1","lecocq_p6b-2","Li2007-2","Li2007-3","Li2007-4","Truchot_p3-1","Truchot_p3-2","watanabe_p6","watanabe_p8"],
"range":["#2799DA","#ED7D31","#FFC000","#4472C4","#70AD47","#1E5A96","#BE4E18","#A5A5A5","#636363","#A47A0C","#264478","#8CBCE6","#F3A06A","#BFBFBF","#2F6E2A","#FFCD33","#5B9BD5","#8CC168"]},
"legend":{"title":null,"orient":"none","direction":"horizontal","legendX":410,"legendY":-3,"columns":2,"gridAlign":"all","columnPadding":19,"rowPadding":10.6,"padding":10,"fillColor":"white","strokeColor":"white","labelFont":"Lato","labelFontSize":12,"labelColor":"#404040","symbolSize":34,"symbolStrokeWidth":1.5,"labelOffset":6}},
"shape":{"field":"s","type":"nominal","sort":null,
"scale":{"domain":["bre2010_t7","bre2010_t8","Lam_vec_A-1","Lam_vec_A-2","Lam_vec_B-1","Lam_vec_B-2","Lam_vec_C_D-1","lecocq_p6a-1","lecocq_p6a-2","lecocq_p6b-1","lecocq_p6b-2","Li2007-2","Li2007-3","Li2007-4","Truchot_p3-1","Truchot_p3-2","watanabe_p6","watanabe_p8"],
"range":["square","circle","square","M-0.7,-1L0,-0.3L0.7,-1L1,-0.7L0.3,0L1,0.7L0.7,1L0,0.3L-0.7,1L-1,0.7L-0.3,0L-1,-0.7Z","triangle-up","circle","circle","cross","square","circle","M-0.7,-1L0,-0.3L0.7,-1L1,-0.7L0.3,0L1,0.7L0.7,1L0,0.3L-0.7,1L-1,0.7L-0.3,0L-1,-0.7Z","cross","square","square","square","circle","circle","circle"]},
"legend":{"title":null,"orient":"none","direction":"horizontal","legendX":410,"legendY":-3,"columns":2,"gridAlign":"all","columnPadding":19,"rowPadding":10.6,"padding":10,"fillColor":"white","strokeColor":"white","labelFont":"Lato","labelFontSize":12,"labelColor":"#404040","symbolSize":34,"labelOffset":6}}
},
"layer":[
{"mark":{"type":"line","strokeWidth":2,"clip":true},"encoding":{"shape":{"value":"circle"}}},
{"mark":{"type":"point","filled":true,"size":22,"opacity":1,"clip":true}}
]
}
